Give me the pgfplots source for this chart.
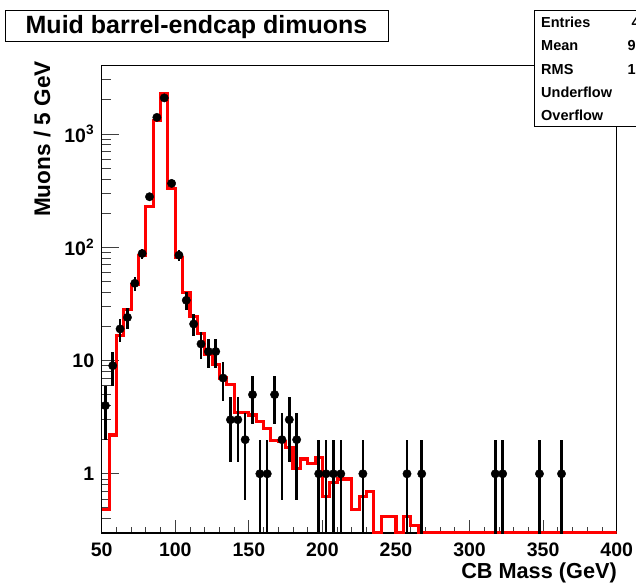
\documentclass[border=0pt]{standalone}
\usepackage{fontspec}
\setmainfont{Liberation Sans}
\usepackage{pgfplots}
\pgfplotsset{compat=1.18}
\begin{document}
\begin{tikzpicture}
\fill[white] (0pt,0pt) rectangle (636pt,-582pt);
\begin{axis}[
  at={(101.7pt,-533pt)}, anchor=south west,
  scale only axis, width=515pt, height=467.3pt,
  xmin=50, xmax=400, ymode=log, ymin=0.3, ymax=4000,
  axis line style={line width=1.1pt},
  tick pos=left, tick align=inside,
  xtick={50,100,150,200,250,300,350,400},
  minor x tick num=4,
  ytick={1,10,100,1000},
  yticklabels={1,10,10\textsuperscript{2},10\textsuperscript{3}},
  minor ytick={0.4,0.5,0.6,0.7,0.8,0.9,2,3,4,5,6,7,8,9,20,30,40,50,60,70,80,90,200,300,400,500,600,700,800,900,2000,3000},
  major tick style={black!75, line width=0.8pt},
  minor tick style={black!75, line width=0.8pt},
  every major x tick/.append style={/pgfplots/major tick length=13pt},
  every minor x tick/.append style={/pgfplots/minor tick length=6.5pt},
  every major y tick/.append style={/pgfplots/major tick length=17pt},
  every minor y tick/.append style={/pgfplots/minor tick length=9pt},
  ticklabel style={font=\fontsize{19.5}{22}\selectfont\bfseries},
  xticklabel style={yshift=-6pt},
  yticklabel style={xshift=-4pt},
  /pgf/number format/assume math mode=true,
  clip=true,
]
% MC histogram (left bin edge, content); empty bins drawn at the frame floor (0.3)
\addplot[const plot, draw=red, line width=3.1pt, mark=none] table {
x y
50 0.48
55 2.2
60 16.5
65 28.3
70 47
75 84
80 227
85 1305
90 2280
95 331
100 81
105 40
110 24.4
115 17.4
120 11.2
125 9.3
130 7.0
135 6.1
140 3.5
145 3.45
150 3.3
155 2.9
160 2.5
165 1.95
170 1.93
175 1.7
180 1.12
185 1.35
190 1.24
195 1.38
200 0.63
205 0.83
210 0.9
215 0.9
220 0.48
225 0.63
230 0.70
235 0.3
240 0.42
245 0.42
250 0.3
255 0.42
260 0.35
265 0.3
270 0.3
400 0.3
};
% data points (bin centre, count, +err, -err)
\addplot[only marks, mark=*, mark size=4.2pt, black,
  error bars/.cd, y dir=both, y explicit, error mark=none,
  error bar style={line width=2.5pt, black}]
  table[x=x, y=y, y error plus=ep, y error minus=em] {
x y ep em
52.5 4 2 2
57.5 9 3 3
62.5 19 4.359 4.359
67.5 24 4.899 4.899
72.5 48 6.928 6.928
77.5 88 9.381 9.381
82.5 279 16.70 16.70
87.5 1400 37.42 37.42
92.5 2080 45.61 45.61
97.5 366 19.13 19.13
102.5 85 9.220 9.220
107.5 34 5.831 5.831
112.5 21 4.583 4.583
117.5 14 3.742 3.742
122.5 12 3.464 3.464
127.5 12 3.464 3.464
132.5 7 2.646 2.646
137.5 3 1.732 1.732
142.5 3 1.732 1.732
147.5 2 1.414 1.414
152.5 5 2.236 2.236
157.5 1 1 0.99
162.5 1 1 0.99
167.5 5 2.236 2.236
172.5 2 1.414 1.414
177.5 3 1.732 1.732
182.5 2 1.414 1.414
197.5 1 1 0.99
202.5 1 1 0.99
207.5 1 1 0.99
212.5 1 1 0.99
227.5 1 1 0.99
257.5 1 1 0.99
267.5 1 1 0.99
317.5 1 1 0.99
322.5 1 1 0.99
347.5 1 1 0.99
362.5 1 1 0.99
};
\end{axis}
% axis titles
\node[anchor=base east, inner sep=0pt, font=\fontsize{21.7}{24}\selectfont\bfseries] at (617pt,-578pt) {CB Mass (GeV)};
\node[rotate=90, anchor=base east, inner sep=0pt, font=\fontsize{22.6}{25}\selectfont\bfseries] at (50pt,-61pt) {Muons / 5 GeV};
% title box
\draw[fill=white, line width=0.8pt] (5pt,-10pt) rectangle (388pt,-41pt);
\node[anchor=base, inner sep=0pt, font=\fontsize{25}{28}\selectfont\bfseries] at (196.5pt,-33.3pt) {Muid barrel-endcap dimuons};
% statistics box (cut off at the right edge, as in the reference)
\draw[fill=white, line width=0.8pt] (534.3pt,-10pt) rectangle (700pt,-126.7pt);
\begin{scope}[every node/.style={inner sep=0pt, font=\fontsize{14.5}{16}\selectfont\bfseries}]
\node[anchor=base west] at (541pt,-27.3pt) {Entries};
\node[anchor=base west] at (541pt,-50.7pt) {Mean};
\node[anchor=base west] at (541pt,-74.1pt) {RMS};
\node[anchor=base west] at (541pt,-97.5pt) {Underflow};
\node[anchor=base west] at (541pt,-120.9pt) {Overflow};
\node[anchor=base east] at (664pt,-27.3pt) {4540};
\node[anchor=base east] at (664pt,-50.7pt) {92.17};
\node[anchor=base east] at (664pt,-74.1pt) {17.82};
\node[anchor=base east] at (690pt,-97.5pt) {0};
\node[anchor=base east] at (690pt,-120.9pt) {0};
\end{scope}
\pgfresetboundingbox
\useasboundingbox (0pt,0pt) rectangle (636pt,-582pt);
\end{tikzpicture}
\end{document}
